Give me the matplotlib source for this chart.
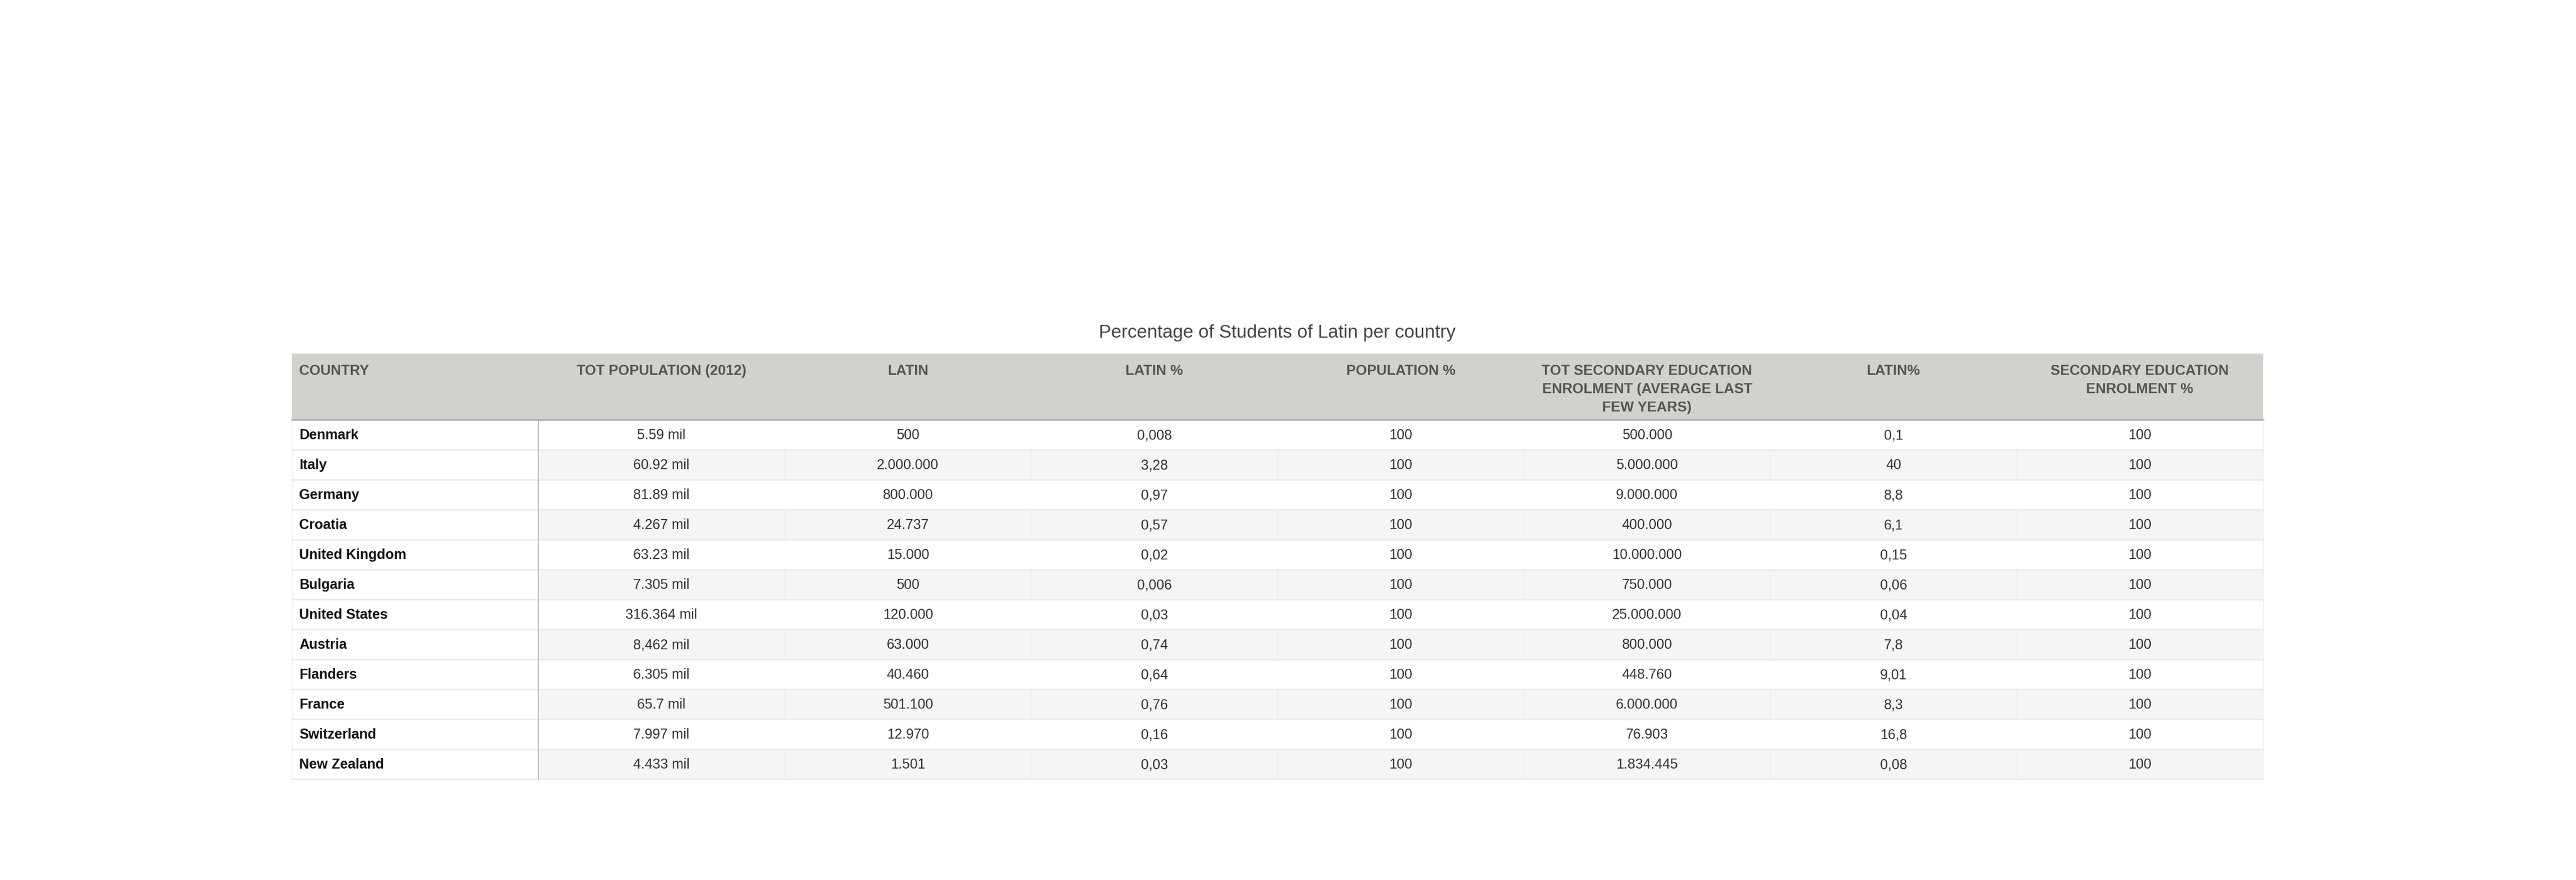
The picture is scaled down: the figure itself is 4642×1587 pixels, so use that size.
import matplotlib.pyplot as plt
from matplotlib.patches import Rectangle

plt.rcParams['font.family'] = ['Liberation Sans', 'DejaVu Sans']

title = 'Percentage of Students of Latin per country'

headers = ['COUNTRY', 'TOT POPULATION (2012)', 'LATIN', 'LATIN %', 'POPULATION %',
           'TOT SECONDARY EDUCATION\nENROLMENT (AVERAGE LAST\nFEW YEARS)', 'LATIN%',
           'SECONDARY EDUCATION\nENROLMENT %']

countries = ['Denmark', 'Italy', 'Germany', 'Croatia', 'United Kingdom', 'Bulgaria',
             'United States', 'Austria', 'Flanders', 'France', 'Switzerland', 'New Zealand']
tot_population = ['5.59 mil', '60.92 mil', '81.89 mil', '4.267 mil', '63.23 mil', '7.305 mil',
                  '316.364 mil', '8,462 mil', '6.305 mil', '65.7 mil', '7.997 mil', '4.433 mil']
latin = ['500', '2.000.000', '800.000', '24.737', '15.000', '500',
         '120.000', '63.000', '40.460', '501.100', '12.970', '1.501']
latin_pct = ['0,008', '3,28', '0,97', '0,57', '0,02', '0,006',
             '0,03', '0,74', '0,64', '0,76', '0,16', '0,03']
population_pct = ['100'] * 12
tot_secondary = ['500.000', '5.000.000', '9.000.000', '400.000', '10.000.000', '750.000',
                 '25.000.000', '800.000', '448.760', '6.000.000', '76.903', '1.834.445']
latin_pct_sec = ['0,1', '40', '8,8', '6,1', '0,15', '0,06',
                 '0,04', '7,8', '9,01', '8,3', '16,8', '0,08']
secondary_pct = ['100'] * 12

columns = [countries, tot_population, latin, latin_pct, population_pct,
           tot_secondary, latin_pct_sec, secondary_pct]

# layout in pixels
W, H = 4642, 1587
left = 526
col_w = 444
head_top = 638
head_h = 119
row_h = 54
n_rows = len(countries)
n_cols = len(columns)
right = left + col_w * n_cols
table_bottom = head_top + head_h + row_h * n_rows

fig = plt.figure(figsize=(W / 100, H / 100), dpi=100)
ax = fig.add_axes([0, 0, 1, 1])
ax.set_xlim(0, W)
ax.set_ylim(H, 0)
ax.axis('off')

ax.text((left + right) / 2, 600, title, ha='center', va='center',
        fontsize=24, color='#444444')

# header
ax.add_patch(Rectangle((left, head_top), right - left, head_h,
                       facecolor='#d1d1cd', edgecolor='none'))
ax.plot([left, right], [head_top, head_top], color='#e4e4e1', lw=1.5)
for j, h in enumerate(headers):
    for k, line in enumerate(h.split('\n')):
        y = 676 + k * 33
        if j == 0:
            ax.text(left + 13, y, line, ha='left', va='baseline', fontsize=18.5,
                    fontweight='bold', color='#555555')
        else:
            ax.text(left + col_w * (j + 0.5), y, line, ha='center', va='baseline',
                    fontsize=18.5, fontweight='bold', color='#555555')

# body rows
for i in range(n_rows):
    y0 = head_top + head_h + i * row_h
    if i % 2 == 1:
        ax.add_patch(Rectangle((left + col_w, y0), right - left - col_w, row_h,
                               facecolor='#f5f5f4', edgecolor='none'))
        for j in range(2, n_cols):
            ax.plot([left + col_w * j] * 2, [y0, y0 + row_h], color='#ebebea', lw=1)
    ax.plot([left, right], [y0 + row_h, y0 + row_h], color='#ebebea', lw=2)
    yc = y0 + row_h / 2 + 1
    ax.text(left + 13, yc, countries[i], ha='left', va='center', fontsize=18,
            fontweight='bold', color='#111111')
    for j in range(1, n_cols):
        ax.text(left + col_w * (j + 0.5), yc, columns[j][i], ha='center', va='center',
                fontsize=18, color='#333333')

ax.plot([left, right], [head_top + head_h, head_top + head_h], color='#b3b3b0', lw=2.5)
ax.plot([left + col_w] * 2, [head_top + head_h, table_bottom], color='#a8a8a8', lw=1.2)
ax.plot([left, left], [head_top + head_h, table_bottom], color='#ebebea', lw=1)
ax.plot([right, right], [head_top + head_h, table_bottom], color='#ebebea', lw=1)

fig.savefig('out.png', dpi=100, facecolor='white')
